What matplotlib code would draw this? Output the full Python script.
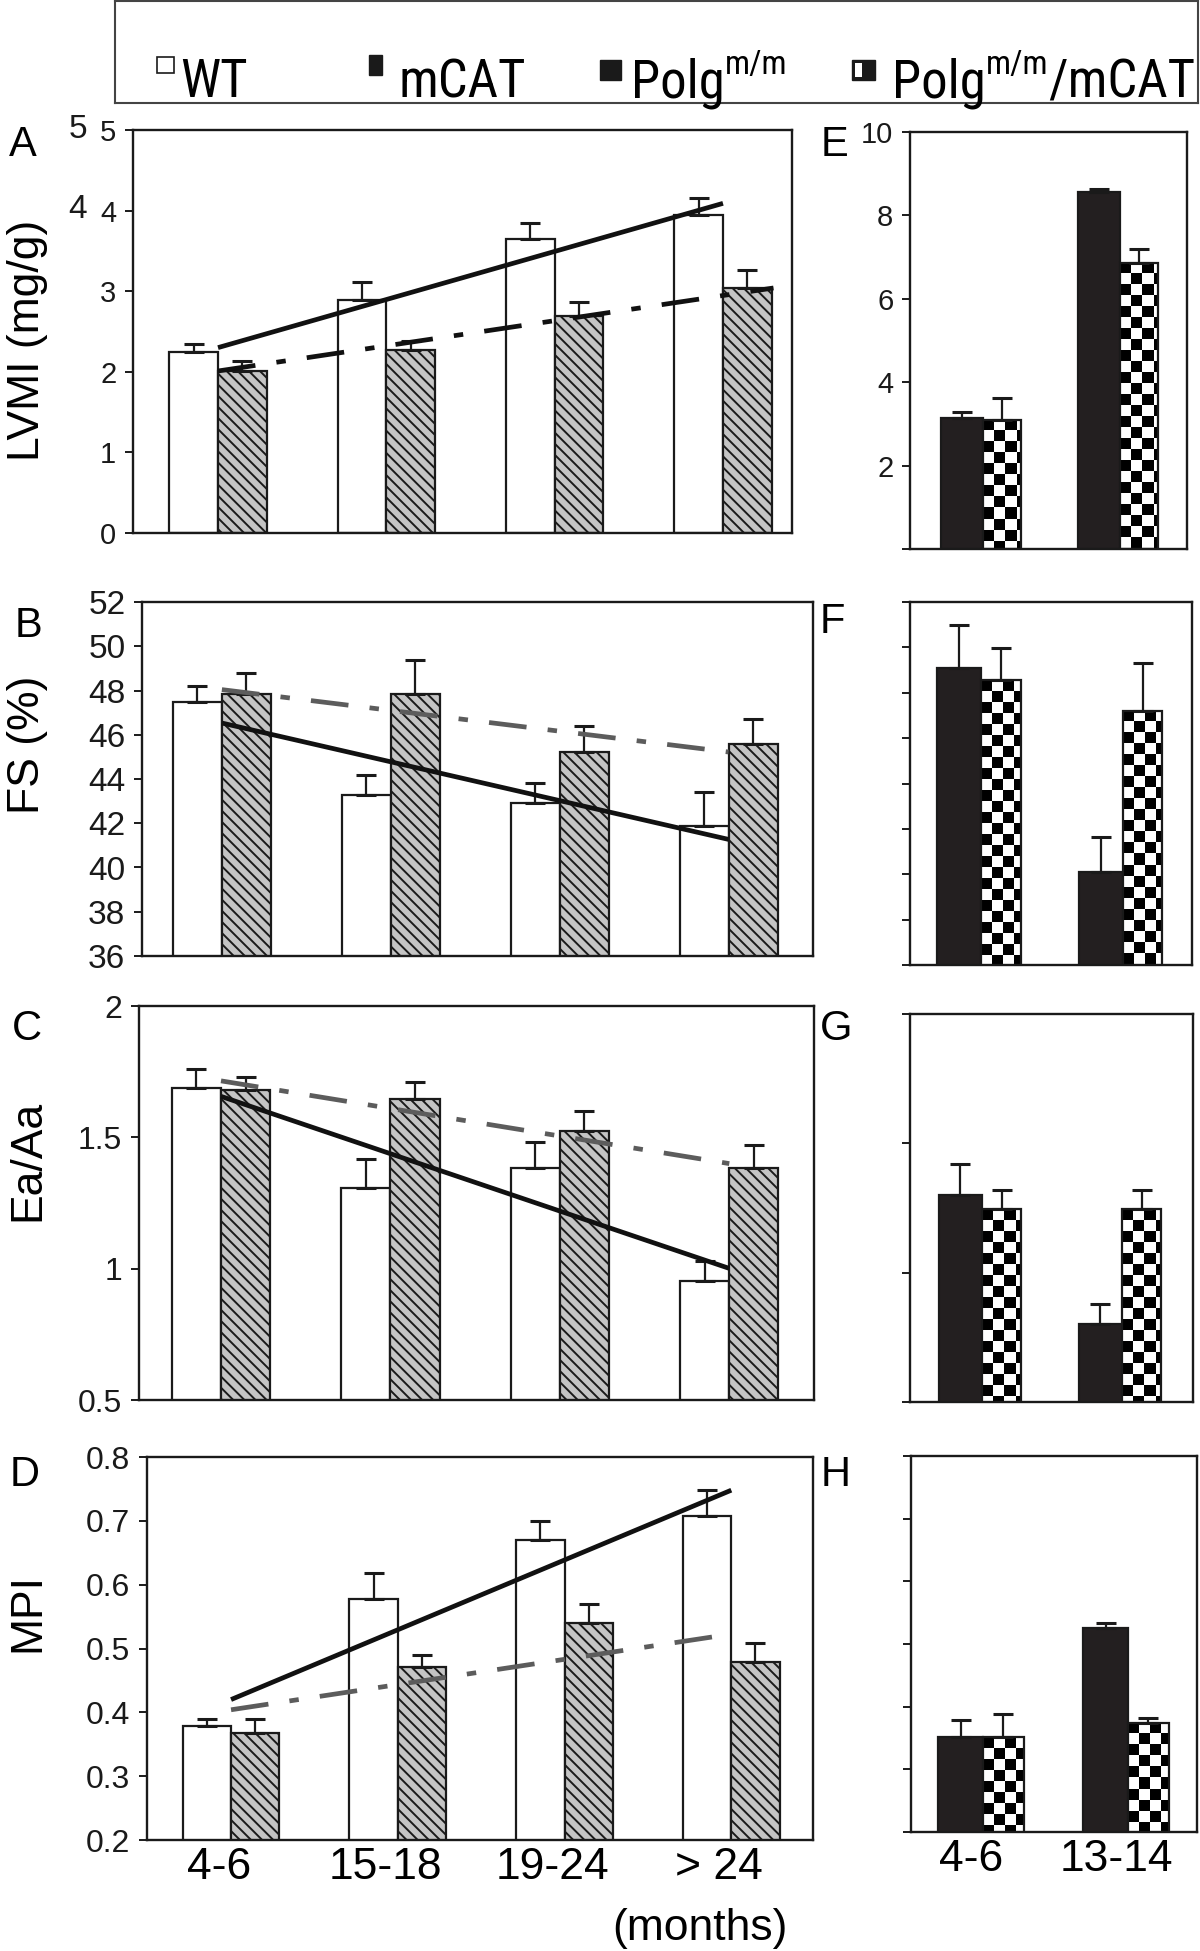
import numpy as np
import matplotlib
matplotlib.use('Agg')
import matplotlib.pyplot as plt
from matplotlib import font_manager as fm
from matplotlib.patches import Rectangle
from matplotlib.transforms import ScaledTranslation

# ---------------- data ----------------
age_groups = ['4-6', '15-18', '19-24', '> 24']
polg_groups = ['4-6', '13-14']

# A: LVMI (mg/g)
lvmi_wt = [2.25, 2.89, 3.65, 3.94]
lvmi_wt_err = [0.09, 0.23, 0.20, 0.22]
lvmi_mcat = [2.01, 2.27, 2.69, 3.04]
lvmi_mcat_err = [0.12, 0.11, 0.18, 0.22]
lvmi_wt_trend_x = [0, 3]
lvmi_wt_trend_y = [2.30, 4.09]
lvmi_mcat_trend_x = [0, 3.3]
lvmi_mcat_trend_y = [2.01, 3.04]

# B: FS (%)
fs_wt = [47.48, 43.27, 42.92, 41.88]
fs_wt_err = [0.71, 0.93, 0.92, 1.51]
fs_mcat = [47.86, 47.86, 45.21, 45.57]
fs_mcat_err = [0.95, 1.50, 1.17, 1.16]
fs_wt_trend_x = [0, 3]
fs_wt_trend_y = [46.53, 41.27]
fs_mcat_trend_x = [0, 3]
fs_mcat_trend_y = [48.04, 45.22]

# C: Ea/Aa
ea_wt = [1.688, 1.309, 1.385, 0.954]
ea_wt_err = [0.074, 0.107, 0.096, 0.075]
ea_mcat = [1.679, 1.646, 1.526, 1.385]
ea_mcat_err = [0.051, 0.064, 0.076, 0.086]
ea_wt_trend_x = [0, 3]
ea_wt_trend_y = [1.656, 1.001]
ea_mcat_trend_x = [0, 3]
ea_mcat_trend_y = [1.715, 1.40]

# D: MPI
mpi_wt = [0.379, 0.578, 0.670, 0.708]
mpi_wt_err = [0.011, 0.041, 0.030, 0.041]
mpi_mcat = [0.367, 0.471, 0.540, 0.479]
mpi_mcat_err = [0.023, 0.019, 0.030, 0.030]
mpi_wt_trend_x = [0, 3]
mpi_wt_trend_y = [0.42, 0.748]
mpi_mcat_trend_x = [0, 2.96]
mpi_mcat_trend_y = [0.404, 0.521]

# E-H: Polg m/m and Polg m/m / mCAT
e_polg = [3.13, 8.57]
e_polg_err = [0.16, 0.07]
e_pm = [3.10, 6.87]
e_pm_err = [0.53, 0.33]

f_polg = [49.1, 40.11]
f_polg_err = [1.90, 1.54]
f_pm = [48.55, 47.2]
f_pm_err = [1.44, 2.13]

g_polg = [1.30, 0.80]
g_polg_err = [0.12, 0.08]
g_pm = [1.245, 1.245]
g_pm_err = [0.075, 0.075]

h_polg = [0.351, 0.525]
h_polg_err = [0.027, 0.009]
h_pm = [0.351, 0.374]
h_pm_err = [0.038, 0.008]

# ---------------- fonts ----------------
names = {f.name for f in fm.fontManager.ttflist}
base = 'Liberation Sans' if 'Liberation Sans' in names else 'DejaVu Sans'
narrow = None
legend_size = 31
sup_size = 20
for cand in ['Liberation Sans Narrow', 'Arial Narrow', 'Roboto Condensed', 'Open Sans Condensed']:
    if cand in names:
        narrow = cand
        legend_size = 38
        sup_size = 24
        break
if narrow is None:
    narrow = base

plt.rcParams['font.family'] = [base, 'DejaVu Sans']
plt.rcParams['hatch.linewidth'] = 1.4

W, H = 1200, 1951
fig = plt.figure(figsize=(W / 100, H / 100), dpi=100)


def add_ax(l, r, t, b):
    return fig.add_axes([l / W, 1 - b / H, (r - l) / W, (b - t) / H])


SPINE_LW = 1.7
BAR_LW = 1.6
INK = '#1a1a1a'


def style_axes(ax, ylim, yticks, ylabels, labelsize):
    ax.set_ylim(*ylim)
    ax.set_yticks(yticks)
    ax.set_yticklabels(ylabels)
    for s in ax.spines.values():
        s.set_linewidth(SPINE_LW)
        s.set_color(INK)
    ax.tick_params(axis='y', direction='out', length=6, width=1.4,
                   labelsize=labelsize, pad=6, colors=INK)
    ax.tick_params(axis='x', length=0)


def errbars(ax, xc, vals, errs):
    lower = [0] * len(vals)
    ax.errorbar(xc, vals, yerr=[lower, errs], fmt='none', ecolor=INK,
                elinewidth=1.6, capsize=7.5, capthick=2.2, zorder=3)


def trend(ax, x, y, color, dashed):
    if dashed:
        ax.plot(x, y, color=color, lw=3.4, dashes=(8, 4.5, 2, 4.5),
                dash_capstyle='butt', zorder=4)
    else:
        ax.plot(x, y, color=color, lw=3.4, solid_capstyle='butt', zorder=4)


def left_panel(ax, wt, wt_err, mc, mc_err, xlim, tx1, ty1, tx2, ty2, dash_color):
    ax.set_xlim(*xlim)
    x = np.arange(len(age_groups))
    w = 0.29
    ax.bar(x - w, wt, w, align='edge', color='white', edgecolor=INK,
           lw=BAR_LW, zorder=2)
    ax.bar(x, mc, w, align='edge', color='#c4c4c4', edgecolor=INK,
           lw=BAR_LW, hatch='\\\\\\', zorder=2)
    errbars(ax, x - w / 2, wt, wt_err)
    errbars(ax, x + w / 2, mc, mc_err)
    trend(ax, tx1, ty1, '#111111', False)
    trend(ax, tx2, ty2, dash_color, True)
    ax.set_xticks(x)


def checker_overlay(ax, bars, sq_px=11):
    x0, x1 = ax.get_xlim()
    y0, y1 = ax.get_ylim()
    pos = ax.get_position()
    dx = (x1 - x0) / (pos.width * W) * sq_px
    dy = (y1 - y0) / (pos.height * H) * sq_px
    for b in bars:
        bx, bw, bh = b.get_x(), b.get_width(), b.get_height()
        bottom = max(0.0, y0)
        nc = int(np.ceil(bw / dx)) + 1
        nr = int(np.ceil((bh - bottom) / dy)) + 1
        ii, jj = np.indices((nr, nc))
        pat = ((ii + jj) % 2).astype(float)
        im = ax.imshow(pat, cmap='gray', vmin=0, vmax=1,
                       extent=[bx, bx + nc * dx, bh - nr * dy, bh],
                       origin='upper', interpolation='nearest', aspect='auto',
                       zorder=2.2)
        clip = Rectangle((bx, bottom), bw, bh - bottom, transform=ax.transData)
        im.set_clip_path(clip)
    ax.set_xlim(x0, x1)
    ax.set_ylim(y0, y1)


def right_panel(ax, polg, polg_err, pm, pm_err, xlim):
    ax.set_xlim(*xlim)
    x = np.arange(len(polg_groups))
    wb, wc = 0.31, 0.28
    ax.bar(x - wb, polg, wb, align='edge', color='#231f20', edgecolor=INK,
           lw=BAR_LW, zorder=2)
    cb = ax.bar(x, pm, wc, align='edge', color='white', edgecolor='none', zorder=2)
    checker_overlay(ax, cb)
    ax.bar(x, pm, wc, align='edge', fill=False, edgecolor=INK,
           lw=BAR_LW, zorder=2.5)
    errbars(ax, x - wb / 2, polg, polg_err)
    errbars(ax, x + wc / 2, pm, pm_err)
    ax.set_xticks(x)


GRAY = '#5c5c5c'

# ---- A ----
axA = add_ax(133, 792, 130, 533)
style_axes(axA, (0, 5), [0, 1, 2, 3, 4, 5], ['0', '1', '2', '3', '4', '5'], 21)
left_panel(axA, lvmi_wt, lvmi_wt_err, lvmi_mcat, lvmi_mcat_err, (-0.505, 3.41),
           lvmi_wt_trend_x, lvmi_wt_trend_y, lvmi_mcat_trend_x, lvmi_mcat_trend_y, '#111111')
axA.set_xticklabels([])
fig.text(78 / W, 1 - 130 / H, '5', fontsize=24, ha='center', va='center', color=INK)
fig.text(78 / W, 1 - 210 / H, '4', fontsize=24, ha='center', va='center', color=INK)

# ---- B ----
axB = add_ax(142, 813, 602, 956)
style_axes(axB, (36, 52), list(range(36, 53, 2)), [str(v) for v in range(36, 53, 2)], 24)
left_panel(axB, fs_wt, fs_wt_err, fs_mcat, fs_mcat_err, (-0.473, 3.5),
           fs_wt_trend_x, fs_wt_trend_y, fs_mcat_trend_x, fs_mcat_trend_y, GRAY)
axB.set_xticklabels([])

# ---- C ----
axC = add_ax(139, 814, 1006, 1400)
style_axes(axC, (0.5, 2), [0.5, 1, 1.5, 2], ['0.5', '1', '1.5', '2'], 23)
left_panel(axC, ea_wt, ea_wt_err, ea_mcat, ea_mcat_err, (-0.484, 3.5),
           ea_wt_trend_x, ea_wt_trend_y, ea_mcat_trend_x, ea_mcat_trend_y, GRAY)
axC.set_xticklabels([])

# ---- D ----
axD = add_ax(147, 813, 1457, 1840)
dt = [0.2, 0.3, 0.4, 0.5, 0.6, 0.7, 0.8]
style_axes(axD, (0.2, 0.8), dt, ['%.1f' % v for v in dt], 23)
left_panel(axD, mpi_wt, mpi_wt_err, mpi_mcat, mpi_mcat_err, (-0.504, 3.49),
           mpi_wt_trend_x, mpi_wt_trend_y, mpi_mcat_trend_x, mpi_mcat_trend_y, GRAY)
axD.set_xticklabels(age_groups, fontsize=32)
axD.tick_params(axis='x', pad=5)

# ---- E ----
axE = add_ax(910, 1187, 132, 549)
style_axes(axE, (0, 10), [0, 2, 4, 6, 8, 10], ['', '2', '4', '6', '8', '10'], 21)
right_panel(axE, e_polg, e_polg_err, e_pm, e_pm_err, (-0.533, 1.489))
axE.set_xticklabels([])

# ---- F ----
axF = add_ax(910, 1192, 602, 965)
style_axes(axF, (36, 52), list(range(36, 53, 2)), [], 21)
right_panel(axF, f_polg, f_polg_err, f_pm, f_pm_err, (-0.504, 1.49))
axF.set_xticklabels([])

# ---- G ----
axG = add_ax(910, 1193, 1014, 1402)
style_axes(axG, (0.5, 2), [0.5, 1, 1.5, 2], [], 21)
right_panel(axG, g_polg, g_polg_err, g_pm, g_pm_err, (-0.514, 1.507))
axG.set_xticklabels([])

# ---- H ----
axH = add_ax(911, 1197, 1456, 1832)
style_axes(axH, (0.2, 0.8), dt, [], 21)
right_panel(axH, h_polg, h_polg_err, h_pm, h_pm_err, (-0.497, 1.476))
axH.set_xticklabels(polg_groups, fontsize=32)
axH.tick_params(axis='x', pad=5)

shift = ScaledTranslation(-12 / 100, 0, fig.dpi_scale_trans)
for ax in (axD, axH):
    for lab in ax.get_xticklabels():
        lab.set_transform(lab.get_transform() + shift)

fig.text(700 / W, 1 - 1928 / H, '(months)', fontsize=32, ha='center', va='center')

# y labels
for txt, yc in [('LVMI (mg/g)', 340), ('FS (%)', 745), ('Ea/Aa', 1160), ('MPI', 1612)]:
    fig.text(28 / W, 1 - yc / H, txt, fontsize=32, rotation=90, ha='center', va='center')

# panel letters
for txt, xc, yc in [('A', 23, 145), ('B', 29, 626), ('C', 27, 1029), ('D', 25, 1475),
                    ('E', 835, 145), ('F', 832, 622), ('G', 836, 1029), ('H', 836, 1475)]:
    fig.text(xc / W, 1 - yc / H, txt, fontsize=30, ha='center', va='center')

# ---- legend box ----
lax = fig.add_axes([115 / W, 1 - 103 / H, (1198 - 115) / W, 102 / H])
lax.set_xlim(115, 1198)
lax.set_ylim(103, 0)
lax.set_xticks([])
lax.set_yticks([])
for s in lax.spines.values():
    s.set_linewidth(1.5)
    s.set_color('#444444')
lax.add_patch(Rectangle((157, 57), 17, 16, facecolor='white', edgecolor=INK, lw=1.2))
lax.add_patch(Rectangle((369, 55), 13, 20, facecolor=INK, edgecolor=INK, lw=1))
lax.add_patch(Rectangle((600, 60), 21, 20, facecolor=INK, edgecolor=INK, lw=1))
lax.add_patch(Rectangle((852, 60), 23, 20, facecolor=INK, edgecolor=INK, lw=1))
lax.add_patch(Rectangle((855, 63), 7, 14, facecolor='white', edgecolor='none'))

renderer = fig.canvas.get_renderer()
fam = [narrow, 'DejaVu Sans']


def seq_text(x, pieces):
    for txt, size, ybase in pieces:
        t = lax.text(x, ybase, txt, fontsize=size, va='baseline', ha='left', family=fam)
        bb = t.get_window_extent(renderer)
        x = lax.transData.inverted().transform((bb.x1, bb.y0))[0]


seq_text(180, [('WT', legend_size, 97)])
seq_text(398, [('mCAT', legend_size, 97)])
seq_text(631, [('Polg', legend_size, 97), ('m/m', sup_size, 74)])
seq_text(892, [('Polg', legend_size, 97), ('m/m', sup_size, 74), ('/mCAT', legend_size, 97)])

fig.savefig('out.png', dpi=100)
